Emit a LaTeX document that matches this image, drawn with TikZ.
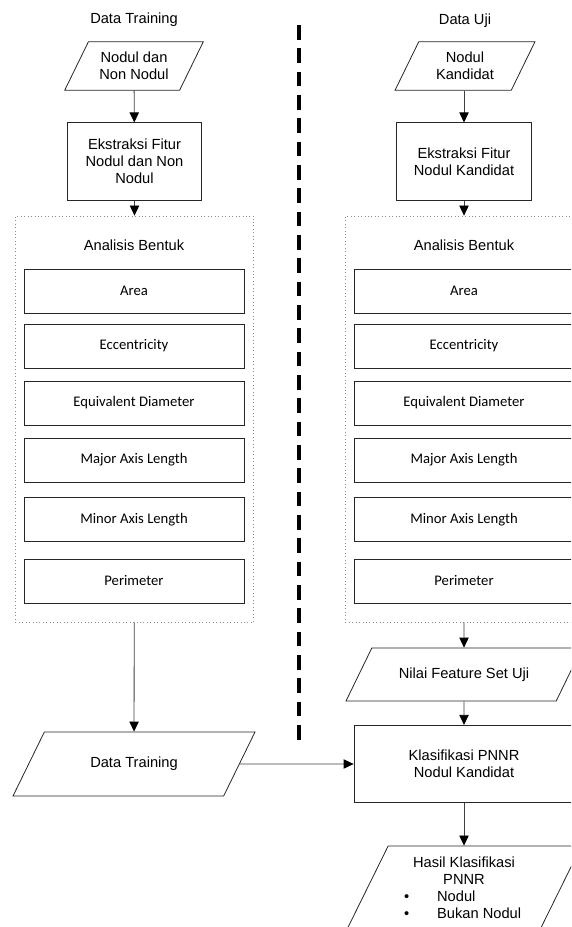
\documentclass[tikz,border=0pt]{standalone}
\usepackage{fontspec}
\setmainfont{Liberation Sans}
\newfontfamily\calibrifont{Carlito}
\usetikzlibrary{shapes.geometric,arrows.meta}
\tikzset{
  proses/.style={draw=black!85,line width=0.6pt,minimum width=101pt,minimum height=58pt,align=center,inner sep=2pt},
  fitur/.style={draw=black!85,line width=0.6pt,minimum width=165pt,minimum height=33pt,inner sep=0pt,font=\calibrifont\fontsize{11}{13}\selectfont},
  dataio/.style={trapezium,trapezium left angle=63.4,trapezium right angle=116.6,trapezium stretches body,draw=black!85,line width=0.6pt,align=center,inner xsep=1pt},
  grup/.style={draw=black!45,dotted,line width=0.6pt,minimum width=179pt,minimum height=304.5pt,inner sep=0pt},
  panah/.style={draw=black!75,line width=0.6pt,-{Triangle[length=7.5pt,width=7pt,black]}}
}
\begin{document}
\begin{tikzpicture}[x=0.75pt,y=-0.75pt,font=\fontsize{11}{12.65}\selectfont]
\useasboundingbox (0,0) rectangle (571,927);
\clip (0,0) rectangle (571,927);

\node (judulL) at (134,20) {Data Training};
\node (judulR) at (465,21) {Data Uji};

\node[dataio,inner ysep=7.45pt,minimum width=104pt,minimum height=36.5pt] (inL) at (134,66) {Nodul dan\\Non Nodul};
\node[dataio,inner ysep=7.45pt,minimum width=105pt,minimum height=36.5pt] (inR) at (465,66) {Nodul\\Kandidat};

\node[proses] (ekstL) at (134.5,161.5) {Ekstraksi Fitur\\Nodul dan Non\\Nodul};
\node[proses] (ekstR) at (464,161.5) {Ekstraksi Fitur\\Nodul Kandidat};

\node[grup] (bentukL) at (134.5,419) {};
\node[grup] (bentukR) at (464.5,419) {};
\node (judulBL) at (134,245) {Analisis Bentuk};
\node (judulBR) at (464,245) {Analisis Bentuk};

\node[fitur] (areaL) at (134,291) {Area};
\node[fitur] (eksL) at (134,346) {Eccentricity};
\node[fitur] (eqL) at (134,403) {Equivalent Diameter};
\node[fitur] (majL) at (134,460) {Major Axis Length};
\node[fitur] (minL) at (134,519.5) {Minor Axis Length};
\node[fitur] (perL) at (134,581) {Perimeter};

\node[fitur] (areaR) at (464,291) {Area};
\node[fitur] (eksR) at (464,346) {Eccentricity};
\node[fitur] (eqR) at (464,403) {Equivalent Diameter};
\node[fitur] (majR) at (464,460) {Major Axis Length};
\node[fitur] (minR) at (464,519.5) {Minor Axis Length};
\node[fitur] (perR) at (464,581) {Perimeter};

\node[dataio,inner ysep=18.35pt,minimum width=181.5pt,minimum height=48pt] (dtrain) at (134,764) {Data Training};
\node[dataio,inner ysep=14.2pt,minimum width=177pt,minimum height=39.75pt] (nilai) at (464,674.5) {Nilai Feature Set Uji};
\node[proses,minimum width=165pt] (klas) at (464,764) {Klasifikasi PNNR\\Nodul Kandidat};
\node[dataio,inner ysep=8.05pt,minimum width=176pt,minimum height=63pt] (hasil) at (464,888) {Hasil Klasifikasi\\PNNR\\
  \makebox[90pt][l]{\textbullet\hspace{21pt}Nodul}\\
  \makebox[90pt][l]{\textbullet\hspace{21pt}Bukan Nodul}};

\draw[panah] (inL) -- (ekstL);
\draw[panah] (ekstL) -- (bentukL);
\draw[panah] (bentukL) -- (dtrain);
\draw[panah] (dtrain.east) -- (klas.west);
\draw[panah] (inR.south -| ekstR) -- (ekstR);
\draw[panah] (ekstR) -- (bentukR.north -| ekstR);
\draw[panah] (bentukR.south -| nilai) -- (nilai);
\draw[panah] (nilai) -- (klas);
\draw[panah] (klas) -- (hasil);

\coordinate (batasA) at (299,25);
\coordinate (batasB) at (299,747);
\draw[line width=3pt,dash pattern=on 11pt off 6.5pt] (batasA) -- (batasB);
\end{tikzpicture}
\end{document}
